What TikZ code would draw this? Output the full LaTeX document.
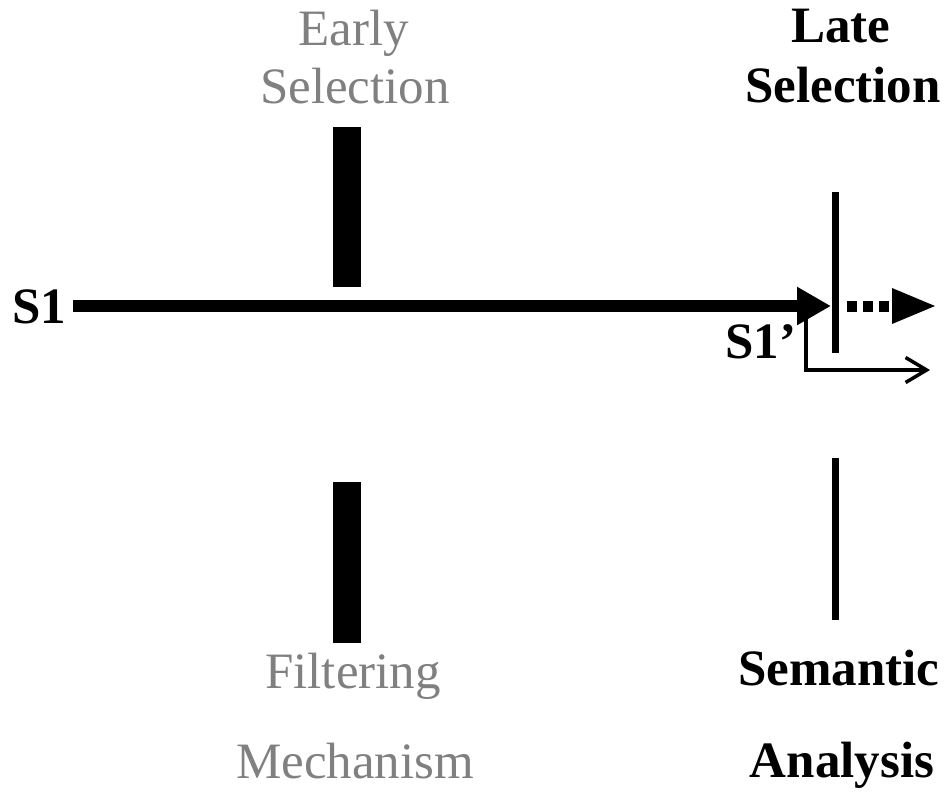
\documentclass[tikz,border=0pt]{standalone}
\usepackage{fontspec}
\setmainfont{Liberation Serif}
\usetikzlibrary{arrows.meta}
\definecolor{softgray}{RGB}{128,128,128}
\tikzset{
  lbl/.style={font=\fontsize{51}{58}\selectfont, inner sep=0pt, anchor=base},
  graylbl/.style={lbl, text=softgray},
  boldlbl/.style={lbl, font=\fontsize{51}{58}\selectfont\bfseries},
  gate/.style={line width=7pt},
  flow/.style={line width=12pt, -{Triangle[length=34pt,width=36pt]}},
}
\begin{document}
\begin{tikzpicture}[x=1pt,y=-1pt]
\useasboundingbox (0,0) rectangle (949,796);

% early selection filter (upper and lower block)
\node[graylbl] (early1) at (354,45) {Early};
\node[graylbl] (early2) at (355,103) {Selection};
\fill (333,127) rectangle (361,287);
\fill (333,482) rectangle (361,643);
\node[graylbl] (filt1) at (353,688) {Filtering};
\node[graylbl] (filt2) at (355,778) {Mechanism};

% late selection gate
\node[boldlbl] (late1) at (841,42) {Late};
\node[boldlbl] (late2) at (843,102) {Selection};
\coordinate (gtop1) at (835,192);
\coordinate (gbot1) at (835,353);
\coordinate (gtop2) at (835,458);
\coordinate (gbot2) at (835,620);
\draw[gate] (gtop1) -- (gbot1);
\draw[gate] (gtop2) -- (gbot2);
\node[boldlbl] (sem1) at (839,685) {Semantic};
\node[boldlbl] (sem2) at (842,777) {Analysis};

% stimulus path
\node[boldlbl] (s1) at (39,323) {S1};
\node[boldlbl] (s1p) at (761,358) {S1’};
\coordinate (src) at (73,306);
\coordinate (hit) at (831,306);
\draw[flow] (src) -- (hit);

% continuation past the gate
\coordinate (pass0) at (847,306);
\coordinate (pass1) at (935,306);
\draw[line width=11pt, dash pattern=on 10pt off 6pt] (pass0) -- (892,306);
\fill (892,288) -- (pass1) -- (892,324) -- cycle;

% branch below the gate
\coordinate (branch) at (806,312);
\coordinate (out) at (930,370);
\draw[line width=3.5pt, -{Straight Barb[length=21pt,width=25pt,line width=3.5pt]}]
  (branch) |- (out);
\end{tikzpicture}
\end{document}
